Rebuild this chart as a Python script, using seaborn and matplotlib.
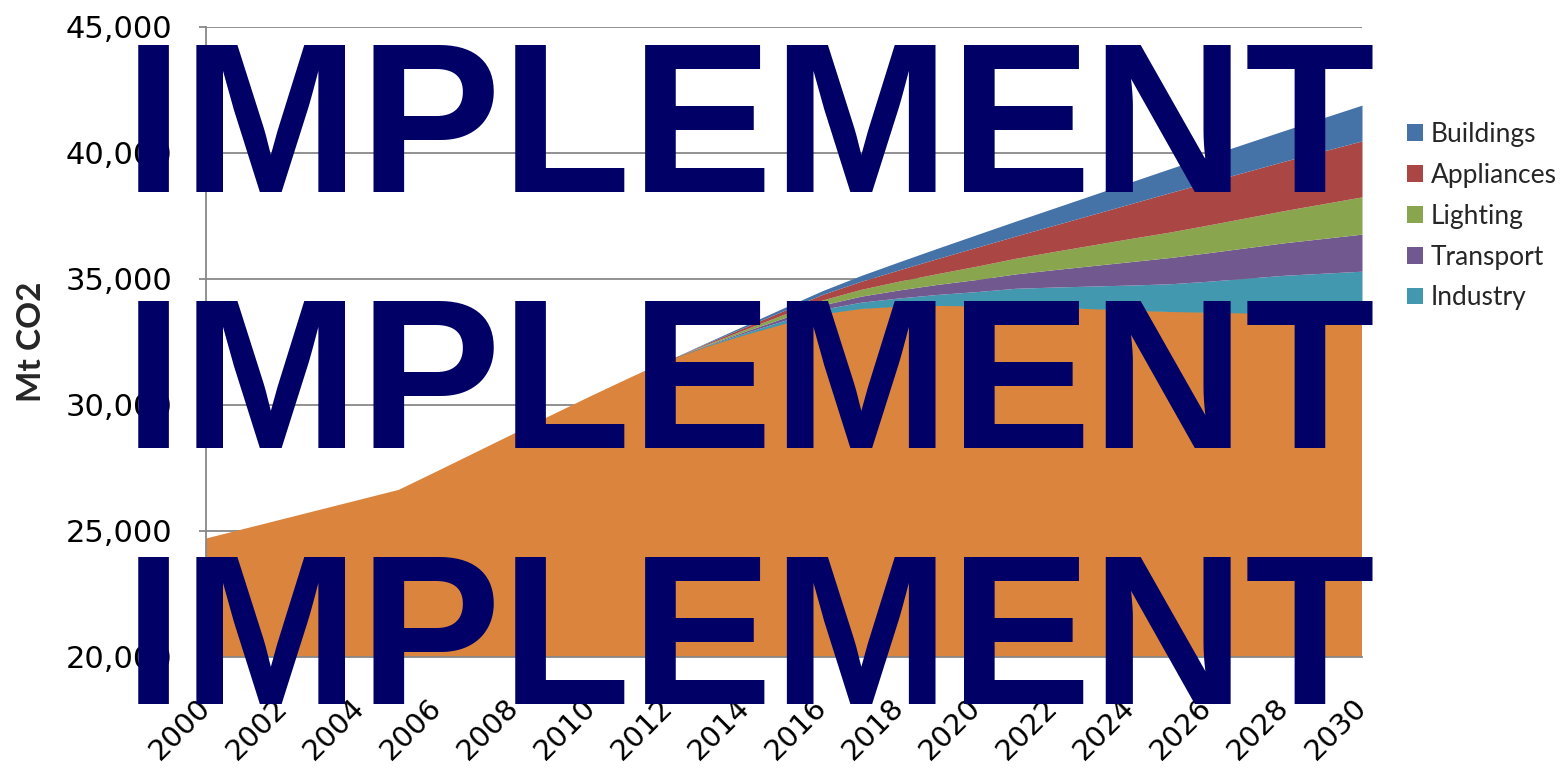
import matplotlib
matplotlib.use("Agg")
import matplotlib.pyplot as plt
import seaborn as sns
from matplotlib.ticker import FuncFormatter
from matplotlib.patches import Patch

# ---------------- data ----------------
years = [2000] + list(range(2005, 2031))

baseline = [24700, 26630, 27370, 28120, 28870, 29620, 30360, 31080, 31780,
            32330, 32800, 33230, 33620, 33830, 33920, 33950, 33930, 33930,
            33880, 33820, 33760, 33710, 33680, 33650, 33620, 33540, 33450]

pre = [0] * 9  # 2000, 2005-2012
industry = pre + [30, 70, 120, 180, 250, 330, 440, 570, 700, 800, 900, 1000,
                  1100, 1230, 1380, 1530, 1690, 1860]
transport = pre + [20, 60, 110, 170, 240, 320, 400, 480, 570, 690, 810, 930,
                   1040, 1130, 1210, 1290, 1380, 1470]
lighting = pre + [30, 80, 140, 200, 270, 350, 430, 530, 620, 720, 820, 920,
                  1010, 1100, 1190, 1280, 1380, 1480]
appliances = pre + [40, 90, 150, 220, 320, 450, 600, 750, 880, 1040, 1210, 1380,
                    1560, 1700, 1830, 1960, 2090, 2220]
buildings = pre + [30, 70, 110, 150, 230, 320, 410, 500, 590, 680, 770, 860,
                   950, 1040, 1130, 1220, 1320, 1420]

series_names = ["Industry", "Transport", "Lighting", "Appliances", "Buildings"]
legend_order = ["Buildings", "Appliances", "Lighting", "Transport", "Industry"]
x_ticks = list(range(2000, 2031, 2))
y_ticks = [20000, 25000, 30000, 35000, 40000, 45000]
overlay_text = "IMPLEMENT"

# ---------------- style ----------------
sns.set_theme(style="white")
plt.rcParams["font.family"] = ["DejaVu Sans"]

colors = {
    "Base": "#DB843D",
    "Industry": "#4198AF",
    "Transport": "#71588F",
    "Lighting": "#89A54E",
    "Appliances": "#AA4643",
    "Buildings": "#4572A7",
}

W, H = 1561, 770
fig = plt.figure(figsize=(W / 100, H / 100), dpi=100)
ax = fig.add_axes([206 / W, 1 - 657 / H, (1362 - 206) / W, (657 - 27) / H])

ax.stackplot(years, baseline, industry, transport, lighting, appliances, buildings,
             colors=[colors["Base"]] + [colors[n] for n in series_names],
             linewidth=0, zorder=2)

ax.set_xlim(2000, 2030)
ax.set_ylim(20000, 45000)
ax.set_yticks(y_ticks)
ax.set_xticks(x_ticks)
ax.yaxis.set_major_formatter(FuncFormatter(lambda v, p: f"{int(v):,}"))
ax.set_xticklabels([str(t) for t in x_ticks], rotation=45, ha="right",
                   va="center", rotation_mode="anchor")

grid_c = "#888888"
ax.grid(axis="y", color=grid_c, linewidth=1.3, zorder=1)
ax.set_axisbelow(True)
for s in ["top", "right"]:
    ax.spines[s].set_visible(False)
for s in ["left", "bottom"]:
    ax.spines[s].set_color(grid_c)
    ax.spines[s].set_linewidth(1.3)
    ax.spines[s].set_zorder(3)

ax.tick_params(axis="y", labelsize=22, colors="black", length=5, width=1.3,
               direction="out", pad=19, color=grid_c, left=True)
ax.tick_params(axis="x", labelsize=21, colors="black", length=0, pad=33)

ax.set_ylabel("Mt CO2", fontsize=24, fontweight="bold", family="Lato", labelpad=14)

handles = [Patch(facecolor=colors[n], edgecolor="none") for n in legend_order]
fig.legend(handles, legend_order, loc="upper left",
           bbox_to_anchor=(1407 / W, 1 - 122 / H), frameon=False,
           prop={"family": "Lato", "size": 19}, handlelength=0.6,
           handleheight=0.6, handletextpad=0.3, labelspacing=0.6,
           borderaxespad=0, borderpad=0)

# overlay stamp text
for yb in [192, 448, 704]:
    fig.text(750 / W, 1 - yb / H, overlay_text, ha="center", va="baseline",
             fontsize=153, fontweight="bold", family="Liberation Sans",
             color="#000066", zorder=10)

fig.savefig("out.png", dpi=100)
